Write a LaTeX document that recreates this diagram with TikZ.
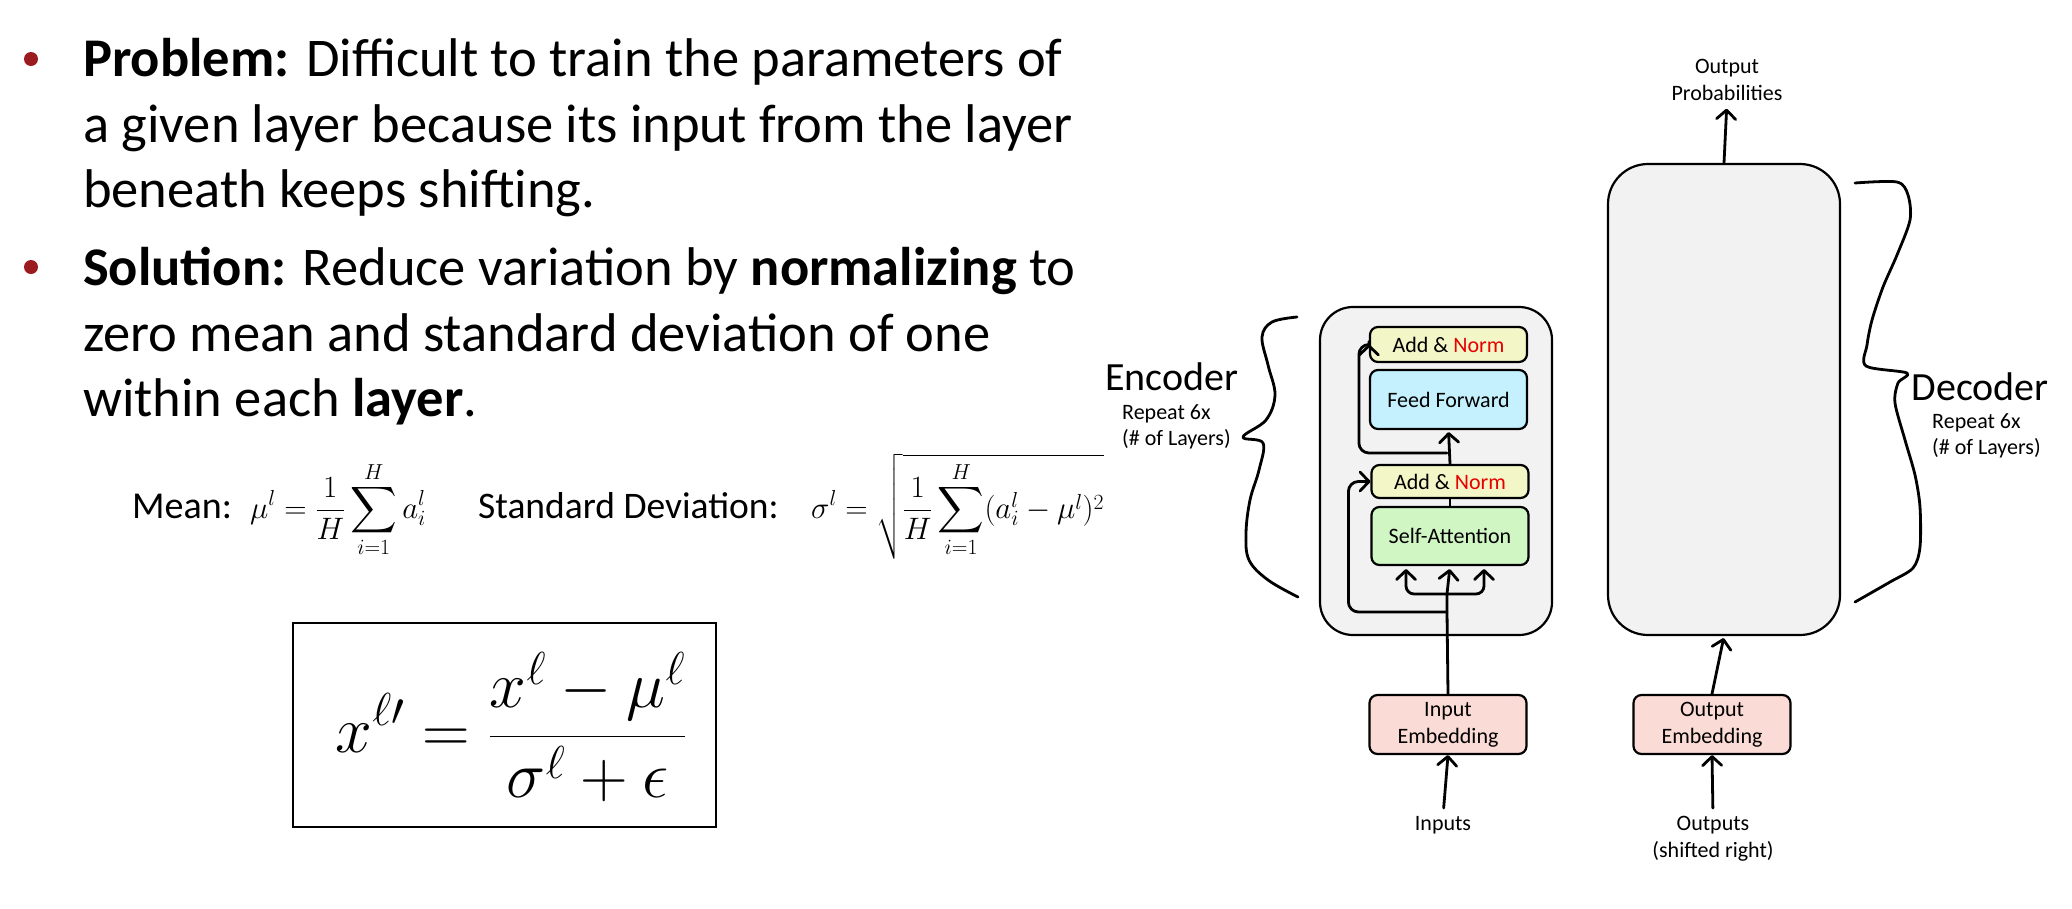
\RequirePackage{fix-cm}
\documentclass[tikz,border=0pt]{standalone}
\usepackage{amsmath}
\usepackage{exscale}
\usepackage{graphicx}
\usepackage{fontspec}
\setmainfont{Carlito}
\usetikzlibrary{arrows.meta,positioning}
\definecolor{bulletred}{RGB}{155,27,31}
\definecolor{layergrey}{RGB}{242,242,242}
\definecolor{normfill}{RGB}{243,247,199}
\definecolor{fffill}{RGB}{196,241,253}
\definecolor{safill}{RGB}{208,246,196}
\definecolor{embfill}{RGB}{250,219,213}
\definecolor{normred}{RGB}{230,0,0}
\newcommand{\Bsum}{\mathop{\vcenter{\hbox{\scalebox{1.3}{$\displaystyle\sum$}}}}\limits}
\tikzset{
  line/.style={line width=2.8pt, line cap=round, line join=round},
  arr/.style={line, -{Straight Barb[length=9pt,width=19pt,round]}},
  block/.style={draw, line width=2.2pt, rounded corners=8pt, inner sep=0,
    minimum width=157pt, align=center, font=\fontsize{22}{27}\selectfont},
  stack/.style={draw, line width=2.2pt, fill=layergrey, minimum width=232pt, inner sep=0},
  body/.style={anchor=base west, inner sep=0, font=\fontsize{54.5}{65}\selectfont},
  small/.style={inner sep=0, align=center, font=\fontsize{22}{26.5}\selectfont},
  dot/.style={circle, fill=bulletred, minimum size=14pt, inner sep=0},
  eq/.style={anchor=base west, inner sep=0, font=\fontsize{31}{37}\selectfont},
}
\begin{document}
\begin{tikzpicture}[x=1pt, y=-1pt]
  \useasboundingbox (0,0) rectangle (2072,908);
  % bullet points
  \node[dot] (b1) at (31,59) {};
  \node[dot] (b2) at (31,267) {};
  \node[body] (p1) at (83,76) {\textbf{Problem:} Difficult to train the parameters of};
  \node[body] (p2) at (83,142) {a given layer because its input from the layer};
  \node[body] (p3) at (83,207) {beneath keeps shifting.};
  \node[body] (s1) at (83,285) {\textbf{Solution:} Reduce variation by \textbf{normalizing} to};
  \node[body] (s2) at (83,351) {zero mean and standard deviation of one};
  \node[body] (s3) at (83,416) {within each \textbf{layer}.};
  % mean and deviation
  \node[anchor=base west, inner sep=0, font=\fontsize{38}{44}\selectfont] (mean) at (132,518) {Mean:};
  \node[eq] (meaneq) at (250,518) {$\displaystyle \mu^l = \frac{1}{H}\Bsum_{i=1}^{H} a_i^l$};
  \node[anchor=base west, inner sep=0, font=\fontsize{37.5}{44}\selectfont] (std) at (478,518) {Standard Deviation:};
  \node[eq] (stdeq) at (811,518) {$\displaystyle \sigma^l = \sqrt{\frac{1}{H}\Bsum_{i=1}^{H}(a_i^l-\mu^l)^2}$};
  % layer norm
  \node[draw, line width=2pt, minimum width=423pt, minimum height=204pt, inner sep=0] (lnorm) at (504,725) {};
  \node[inner sep=0, font=\fontsize{66}{74}\selectfont] (lnormeq) at (511,727)
    {$\displaystyle x^{\ell\prime} = \frac{x^{\ell}-\mu^{\ell}}{\sigma^{\ell}+\epsilon}$};
  % encoder and decoder stacks
  \node[stack, minimum height=328pt, rounded corners=33pt] (enc) at (1436,471) {};
  \node[stack, minimum height=471pt, rounded corners=40pt] (dec) at (1724,399.5) {};
  \node[block, fill=normfill, minimum height=35pt] (an2) at (1448.5,344.5) {Add \& \textcolor{normred}{Norm}};
  \node[block, fill=fffill, minimum height=59pt] (ff) at (1448.5,399.5) {Feed Forward};
  \node[block, fill=normfill, minimum height=33pt] (an1) at (1450,481.5) {Add \& \textcolor{normred}{Norm}};
  \node[block, fill=safill, minimum height=58pt] (sa) at (1450,536) {Self-Attention};
  \node[block, fill=embfill, minimum height=59pt] (inemb) at (1448,724.5) {Input\\Embedding};
  \node[block, fill=embfill, minimum height=59pt] (outemb) at (1712,724.5) {Output\\Embedding};
  \node[small] (inp) at (1443,825) {Inputs};
  \node[small] (outs) at (1713,838.5) {Outputs\\(shifted right)};
  \node[small] (prob) at (1727,80) {Output\\Probabilities};
  \coordinate (j1) at (1447,612);
  \coordinate (j2) at (1447,594);
  \coordinate (j3) at (1447,453);
  \draw[line] (inemb.north) -- (j1) -- (j2);
  \draw[arr, shorten >=3pt] (j2) -- (sa.south);
  \draw[arr, shorten >=3pt, rounded corners=8pt] (j2) -| ([xshift=-44pt]sa.south);
  \draw[arr, shorten >=3pt, rounded corners=8pt] (j2) -| ([xshift=34pt]sa.south);
  \draw[arr, rounded corners=10pt] (j1) -| ([xshift=-22pt]an1.west) -- (an1.west);
  \draw[line] (sa.north) -- (an1.south);
  \draw[arr, shorten >=2pt] (an1.north) -- (ff.south);
  \draw[arr, rounded corners=10pt] (j3) -| ([xshift=-10pt]an2.west) -- (an2.west);
  \draw[arr, shorten <=8pt] (inp.north) -- (inemb.south);
  \draw[arr, shorten <=8pt] (outs.north) -- (outemb.south);
  \draw[arr, shorten >=2pt] (outemb.north) -- (dec.south);
  \draw[arr, shorten >=8pt] (dec.north) -- (prob.south);
  % braces
  \draw[line] plot[smooth, tension=0.6] coordinates {(1297,317) (1272,322) (1262,337) (1268,365)
    (1275,395) (1266,420) (1243,437) (1263,443) (1259,470) (1250,500) (1246,533) (1249,560)
    (1268,580) (1298,597)};
  \draw[line] plot[smooth, tension=0.5] coordinates {(1855,183) (1897,182) (1908,195) (1910,220)
    (1897,255) (1883,287) (1872,320) (1867,345) (1866,366) (1907,373) (1898,383) (1895,403)
    (1905,440) (1915,475) (1920,507) (1920,547) (1913,568) (1890,582) (1855,602)};
  % labels
  \node[inner sep=0, font=\fontsize{40}{48}\selectfont] (enclbl) at (1172,377) {Encoder};
  \node[small, align=left, anchor=west] (encsub) at (1122,427) {Repeat 6x\\(\# of Layers)};
  \node[inner sep=0, font=\fontsize{40}{48}\selectfont] (declbl) at (1980,387) {Decoder};
  \node[small, align=left, anchor=west] (decsub) at (1932,436) {Repeat 6x\\(\# of Layers)};
\end{tikzpicture}
\end{document}
